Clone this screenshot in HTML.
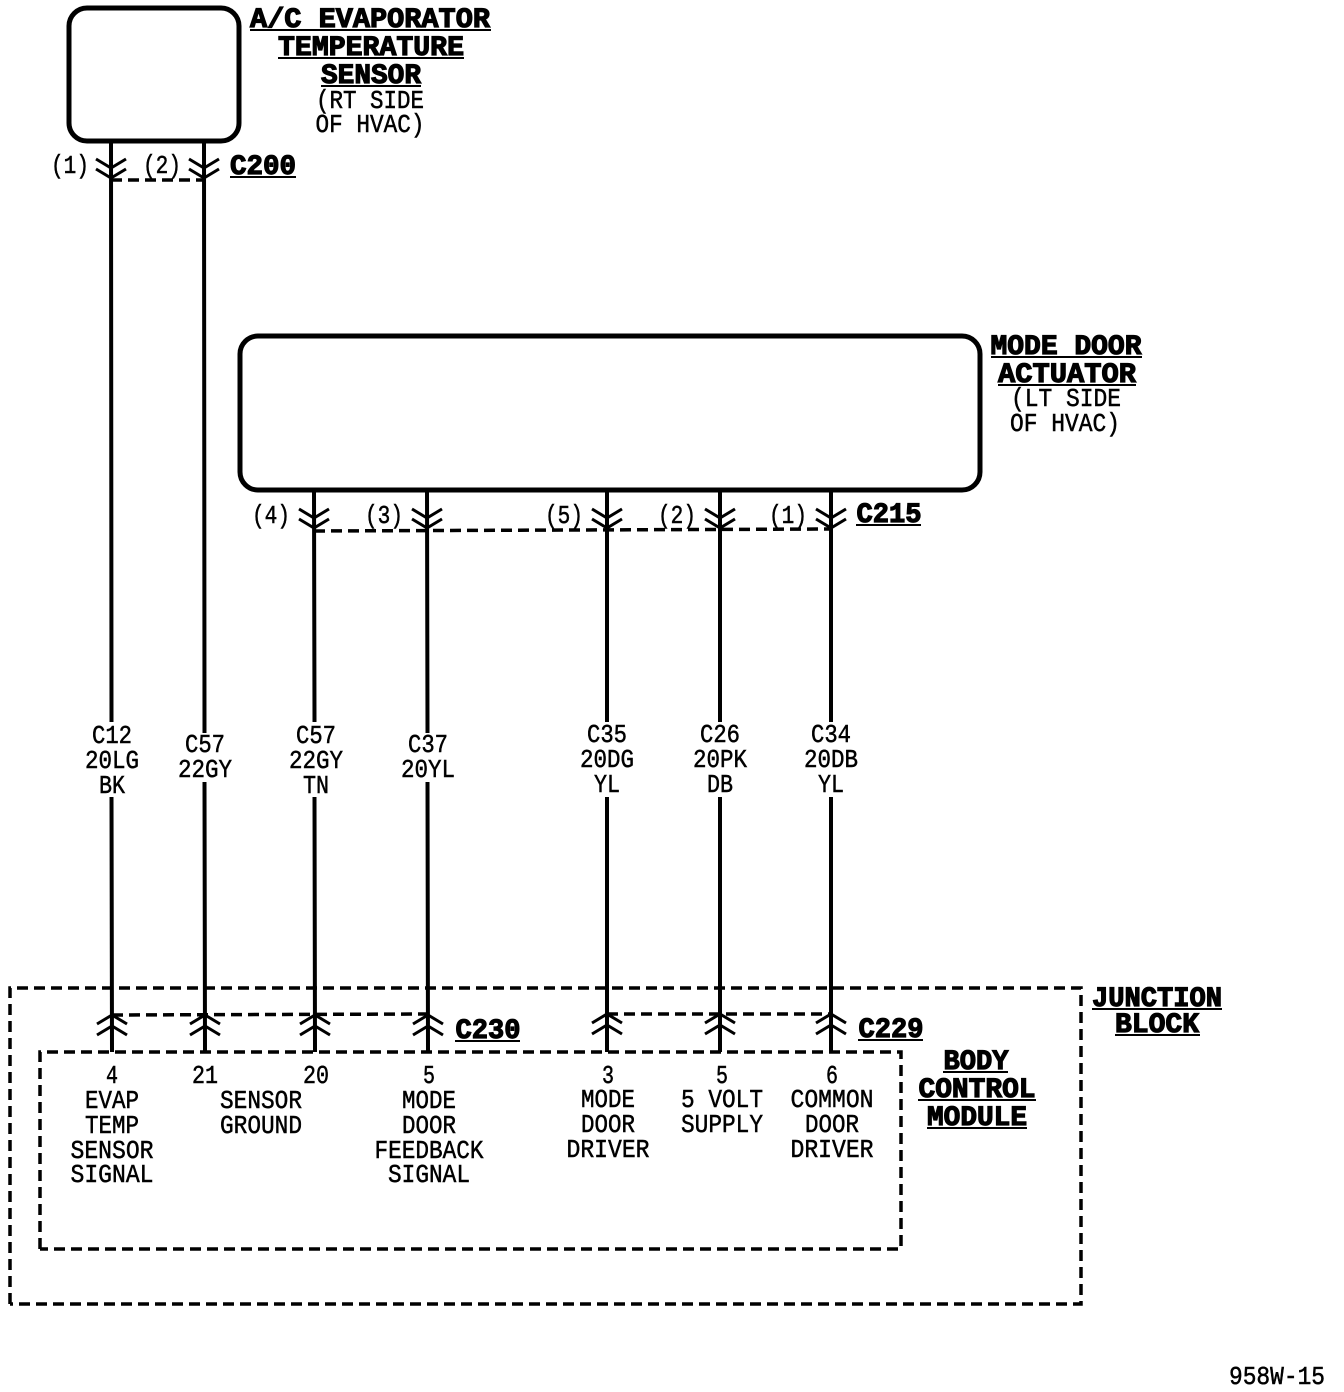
<!DOCTYPE html>
<html><head><meta charset="utf-8"><style>
html,body{margin:0;padding:0;background:#fff}
svg{display:block}
text{font-family:"Liberation Mono",monospace;fill:#000;text-anchor:middle}
.r{font-size:26px;stroke:#000;stroke-width:.5}
.b{font-size:28px;font-weight:bold;stroke:#000;stroke-width:1.2}
.w{stroke:#000;stroke-width:4;fill:none}
.c{stroke:#000;stroke-width:3;fill:none}
.d{stroke:#000;stroke-width:3.5;fill:none;stroke-dasharray:11 6}
.u{stroke:#000;stroke-width:2;fill:none}
</style></head><body>
<svg width="1344" height="1392" viewBox="0 0 1344 1392" xmlns="http://www.w3.org/2000/svg">
<defs>
<g id="dn" class="c"><path d="M-15 -10L0 -1L15 -10M-15 0L0 9L15 0"/></g>
<g id="up" class="c"><path d="M-15 9L0 0L15 9M-15 20L0 11L15 20"/></g>
</defs>
<rect x="69" y="8" width="170" height="133" rx="18" fill="none" stroke="#000" stroke-width="5"/>
<rect x="240" y="336" width="740" height="154" rx="18" fill="none" stroke="#000" stroke-width="5"/>
<path class="d" d="M10 1304V988H1081V1304H10"/>
<path class="d" d="M40 1249V1052H901V1249H40"/>
<path class="d" d="M111 180H204"/>
<path class="d" d="M314 531L831 529"/>
<path class="d" d="M112 1015L428 1014"/>
<path class="d" d="M607 1014H831"/>
<path class="w" d="M111 141L111.5 722M111.5 797L112 1052M204 141L204.5 733M204.5 782L205 1052M314 490L314.5 722M314.5 797L315 1052M427 490L427.5 733M427.5 782L428 1052M607 490V722M607 797V1052M720 490V722M720 797V1052M831 490V722M831 797V1052"/>
<use href="#dn" x="111" y="169"/><use href="#dn" x="204" y="169"/>
<use href="#dn" x="314" y="519"/><use href="#dn" x="427" y="519"/><use href="#dn" x="607" y="519"/><use href="#dn" x="720" y="519"/><use href="#dn" x="831" y="519"/>
<use href="#up" x="112" y="1015"/><use href="#up" x="205" y="1015"/><use href="#up" x="315" y="1015"/><use href="#up" x="428" y="1015"/><use href="#up" x="607" y="1014"/><use href="#up" x="720" y="1014"/><use href="#up" x="831" y="1014"/>

<g class="b">
<text x="370" y="27" textLength="240" lengthAdjust="spacingAndGlyphs">A/C EVAPORATOR</text>
<text x="371" y="55" textLength="186" lengthAdjust="spacingAndGlyphs">TEMPERATURE</text>
<text x="371" y="83" textLength="100" lengthAdjust="spacingAndGlyphs">SENSOR</text>
<text x="263" y="174" textLength="66" lengthAdjust="spacingAndGlyphs">C200</text>
<text x="1066" y="354" textLength="151" lengthAdjust="spacingAndGlyphs">MODE DOOR</text>
<text x="1067" y="382" textLength="138" lengthAdjust="spacingAndGlyphs">ACTUATOR</text>
<text x="889" y="522" textLength="65" lengthAdjust="spacingAndGlyphs">C215</text>
<text x="488" y="1038" textLength="65" lengthAdjust="spacingAndGlyphs">C230</text>
<text x="891" y="1037" textLength="65" lengthAdjust="spacingAndGlyphs">C229</text>
<text x="1157" y="1006" textLength="130" lengthAdjust="spacingAndGlyphs">JUNCTION</text>
<text x="1157" y="1032" textLength="84" lengthAdjust="spacingAndGlyphs">BLOCK</text>
<text x="976" y="1069" textLength="65" lengthAdjust="spacingAndGlyphs">BODY</text>
<text x="977" y="1097" textLength="117" lengthAdjust="spacingAndGlyphs">CONTROL</text>
<text x="977" y="1125" textLength="100" lengthAdjust="spacingAndGlyphs">MODULE</text>
</g>
<path class="u" d="M250 30H491M278 58H464M321 86H421M230 177H296M991 357H1142M998 385H1136M856 525H921M455 1041H520M858 1040H923M1092 1009H1222M1115 1035H1200M943 1072H1008M918 1100H1036M927 1128H1027"/>

<g class="r">
<text x="370" y="108" textLength="108" lengthAdjust="spacingAndGlyphs">(RT SIDE</text>
<text x="370" y="132" textLength="109" lengthAdjust="spacingAndGlyphs">OF HVAC)</text>
<text x="70" y="173" textLength="38" lengthAdjust="spacingAndGlyphs">(1)</text>
<text x="162" y="173" textLength="38" lengthAdjust="spacingAndGlyphs">(2)</text>
<text x="1066" y="406" textLength="110" lengthAdjust="spacingAndGlyphs">(LT SIDE</text>
<text x="1065" y="431" textLength="110" lengthAdjust="spacingAndGlyphs">OF HVAC)</text>
<text x="271" y="523" textLength="38" lengthAdjust="spacingAndGlyphs">(4)</text>
<text x="384" y="523" textLength="38" lengthAdjust="spacingAndGlyphs">(3)</text>
<text x="564" y="523" textLength="38" lengthAdjust="spacingAndGlyphs">(5)</text>
<text x="677" y="523" textLength="38" lengthAdjust="spacingAndGlyphs">(2)</text>
<text x="788" y="523" textLength="38" lengthAdjust="spacingAndGlyphs">(1)</text>

<text x="112" y="743" textLength="40" lengthAdjust="spacingAndGlyphs">C12</text>
<text x="112" y="768" textLength="54" lengthAdjust="spacingAndGlyphs">20LG</text>
<text x="112" y="793" textLength="26" lengthAdjust="spacingAndGlyphs">BK</text>
<text x="205" y="752" textLength="40" lengthAdjust="spacingAndGlyphs">C57</text>
<text x="205" y="777" textLength="54" lengthAdjust="spacingAndGlyphs">22GY</text>
<text x="316" y="743" textLength="40" lengthAdjust="spacingAndGlyphs">C57</text>
<text x="316" y="768" textLength="54" lengthAdjust="spacingAndGlyphs">22GY</text>
<text x="316" y="793" textLength="26" lengthAdjust="spacingAndGlyphs">TN</text>
<text x="428" y="752" textLength="40" lengthAdjust="spacingAndGlyphs">C37</text>
<text x="428" y="777" textLength="54" lengthAdjust="spacingAndGlyphs">20YL</text>
<text x="607" y="742" textLength="40" lengthAdjust="spacingAndGlyphs">C35</text>
<text x="607" y="767" textLength="54" lengthAdjust="spacingAndGlyphs">20DG</text>
<text x="607" y="792" textLength="26" lengthAdjust="spacingAndGlyphs">YL</text>
<text x="720" y="742" textLength="40" lengthAdjust="spacingAndGlyphs">C26</text>
<text x="720" y="767" textLength="54" lengthAdjust="spacingAndGlyphs">20PK</text>
<text x="720" y="792" textLength="26" lengthAdjust="spacingAndGlyphs">DB</text>
<text x="831" y="742" textLength="40" lengthAdjust="spacingAndGlyphs">C34</text>
<text x="831" y="767" textLength="54" lengthAdjust="spacingAndGlyphs">20DB</text>
<text x="831" y="792" textLength="26" lengthAdjust="spacingAndGlyphs">YL</text>

<text x="112" y="1083" textLength="12" lengthAdjust="spacingAndGlyphs">4</text>
<text x="205" y="1083" textLength="26" lengthAdjust="spacingAndGlyphs">21</text>
<text x="316" y="1083" textLength="26" lengthAdjust="spacingAndGlyphs">20</text>
<text x="429" y="1083" textLength="12" lengthAdjust="spacingAndGlyphs">5</text>
<text x="608" y="1083" textLength="12" lengthAdjust="spacingAndGlyphs">3</text>
<text x="722" y="1083" textLength="12" lengthAdjust="spacingAndGlyphs">5</text>
<text x="832" y="1083" textLength="12" lengthAdjust="spacingAndGlyphs">6</text>

<text x="112" y="1108" textLength="54" lengthAdjust="spacingAndGlyphs">EVAP</text>
<text x="112" y="1133" textLength="54" lengthAdjust="spacingAndGlyphs">TEMP</text>
<text x="112" y="1158" textLength="83" lengthAdjust="spacingAndGlyphs">SENSOR</text>
<text x="112" y="1182" textLength="83" lengthAdjust="spacingAndGlyphs">SIGNAL</text>
<text x="261" y="1108" textLength="82" lengthAdjust="spacingAndGlyphs">SENSOR</text>
<text x="261" y="1133" textLength="82" lengthAdjust="spacingAndGlyphs">GROUND</text>
<text x="429" y="1108" textLength="54" lengthAdjust="spacingAndGlyphs">MODE</text>
<text x="429" y="1133" textLength="54" lengthAdjust="spacingAndGlyphs">DOOR</text>
<text x="429" y="1158" textLength="109" lengthAdjust="spacingAndGlyphs">FEEDBACK</text>
<text x="429" y="1182" textLength="82" lengthAdjust="spacingAndGlyphs">SIGNAL</text>
<text x="608" y="1107" textLength="54" lengthAdjust="spacingAndGlyphs">MODE</text>
<text x="608" y="1132" textLength="54" lengthAdjust="spacingAndGlyphs">DOOR</text>
<text x="608" y="1157" textLength="83" lengthAdjust="spacingAndGlyphs">DRIVER</text>
<text x="722" y="1107" textLength="82" lengthAdjust="spacingAndGlyphs">5 VOLT</text>
<text x="722" y="1132" textLength="82" lengthAdjust="spacingAndGlyphs">SUPPLY</text>
<text x="832" y="1107" textLength="83" lengthAdjust="spacingAndGlyphs">COMMON</text>
<text x="832" y="1132" textLength="54" lengthAdjust="spacingAndGlyphs">DOOR</text>
<text x="832" y="1157" textLength="83" lengthAdjust="spacingAndGlyphs">DRIVER</text>
<text x="1277" y="1384" textLength="96" lengthAdjust="spacingAndGlyphs">958W-15</text>
</g>
</svg>
</body></html>
